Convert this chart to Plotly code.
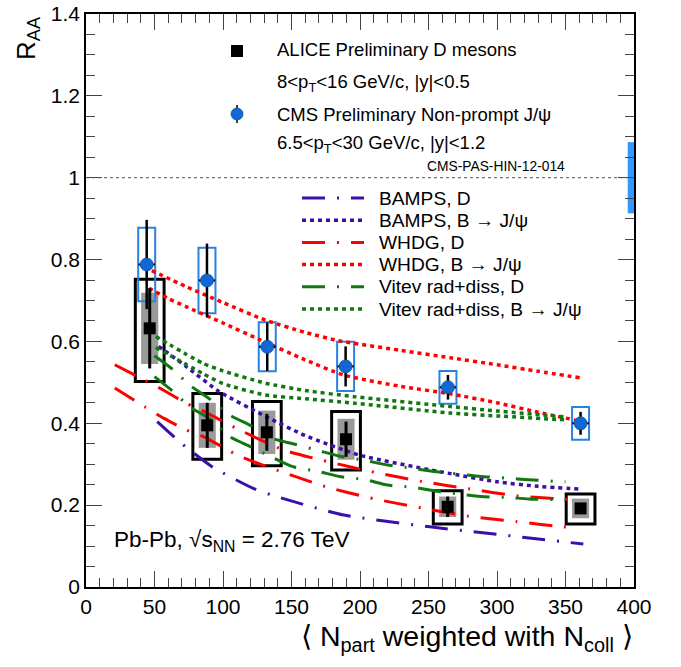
import plotly.graph_objects as go

FONT = "Liberation Sans, Arial, Helvetica, sans-serif"

# ALICE preliminary D mesons
alice_x = [46.5, 88.5, 132.0, 189.8, 264.0, 361.0]
alice_y = [0.632, 0.395, 0.378, 0.361, 0.196, 0.192]
alice_stat = [0.098, 0.055, 0.045, 0.043, 0.025, 0.012]
alice_sys = [0.087, 0.055, 0.053, 0.050, 0.025, 0.024]
alice_fd_hi = [0.120, 0.078, 0.075, 0.068, 0.039, 0.035]
alice_fd_lo = [0.130, 0.083, 0.082, 0.075, 0.042, 0.038]

# CMS preliminary non-prompt J/psi
cms_x = [44.3, 88.3, 132.3, 189.5, 264.2, 361.0]
cms_y = [0.788, 0.749, 0.587, 0.539, 0.488, 0.400]
cms_stat = [0.109, 0.090, 0.059, 0.049, 0.030, 0.028]
cms_sys = [0.090, 0.080, 0.060, 0.060, 0.040, 0.040]
cms_global = 0.087

# model curves
bamps_d_x = [52, 70, 92, 122, 139, 188, 251, 283, 363]
bamps_d_y = [0.404, 0.350, 0.294, 0.241, 0.221, 0.176, 0.147, 0.135, 0.105]

bamps_b_x = [53, 73, 97, 131, 160, 200, 266, 300, 330, 362]
bamps_b_y = [0.588, 0.539, 0.478, 0.417, 0.370, 0.322, 0.277, 0.257, 0.246, 0.239]

whdg_d_x = [21, 42.5, 57, 73, 86, 112, 144, 177, 211, 245, 279, 314, 348, 358]
whdg_d_hi = [0.543, 0.506, 0.480, 0.449, 0.429, 0.384, 0.335, 0.306, 0.280, 0.258, 0.240, 0.223, 0.215, 0.212]
whdg_d_lo = [0.486, 0.441, 0.412, 0.384, 0.367, 0.320, 0.280, 0.243, 0.215, 0.193, 0.173, 0.160, 0.147, 0.145]

whdg_b_hi_x = [48, 73, 100, 131, 160, 184, 230, 266, 300, 330, 361]
whdg_b_hi_y = [0.773, 0.734, 0.695, 0.652, 0.622, 0.602, 0.578, 0.560, 0.543, 0.527, 0.511]
whdg_b_lo_x = [46, 60, 73, 100, 127, 160, 188, 230, 266, 300, 330, 357]
whdg_b_lo_y = [0.730, 0.705, 0.685, 0.645, 0.604, 0.555, 0.518, 0.490, 0.472, 0.450, 0.427, 0.408]

vitev_d_x = [50, 62, 77, 90, 105, 120, 137, 151, 170, 185, 204, 220, 238, 254, 272, 288, 307, 323, 350]
vitev_d_hi = [0.565, 0.535, 0.490, 0.460, 0.420, 0.395, 0.362, 0.350, 0.333, 0.320, 0.309, 0.298,
              0.290, 0.282, 0.276, 0.270, 0.266, 0.262, 0.257]
vitev_d_lo = [0.514, 0.482, 0.437, 0.412, 0.367, 0.343, 0.315, 0.294, 0.282, 0.270, 0.262, 0.249,
              0.244, 0.235, 0.227, 0.221, 0.219, 0.215, 0.213]

vitev_b_x = [51, 85, 100, 131, 160, 196, 266, 300, 351]
vitev_b_hi = [0.612, 0.547, 0.528, 0.498, 0.480, 0.465, 0.441, 0.430, 0.415]
vitev_b_lo = [0.585, 0.522, 0.497, 0.469, 0.460, 0.449, 0.425, 0.418, 0.408]

INDIGO = "#3c0fa8"
RED = "#ff0000"
GREEN = "#117711"
CMS_BLUE = "#1167d4"
DASHDOT = "23px,12px,2px,12px"
DOT = "4px,4px"

W, H = 681, 667
ML, MR, MT, MB = 86, 47, 14, 80
FX0, FX1, FY0, FY1 = ML, W - MR, MT, H - MB


def px(x):
    return (x - FX0) / (FX1 - FX0)


def py(y):
    return (FY1 - y) / (FY1 - FY0)


fig = go.Figure()

# systematic boxes
fig.add_trace(go.Bar(
    x=alice_x, y=[h + l for h, l in zip(alice_fd_hi, alice_fd_lo)],
    base=[v - l for v, l in zip(alice_y, alice_fd_lo)], width=21,
    marker=dict(color="rgba(0,0,0,0)", line=dict(color="black", width=3))))
fig.add_trace(go.Bar(
    x=alice_x, y=[2 * s for s in alice_sys],
    base=[v - s for v, s in zip(alice_y, alice_sys)], width=12.5,
    marker=dict(color="#9a9a9a", line=dict(width=0))))
fig.add_trace(go.Bar(
    x=cms_x, y=[2 * s for s in cms_sys],
    base=[v - s for v, s in zip(cms_y, cms_sys)], width=12.4,
    marker=dict(color="rgba(0,0,0,0)", line=dict(color="#2a82e0", width=2))))
fig.add_trace(go.Bar(
    x=[397.7], y=[2 * cms_global], base=[1 - cms_global], width=4.6,
    marker=dict(color="#3399ff", line=dict(width=0))))

# model curves
curves = [
    (bamps_d_x, bamps_d_y, INDIGO, DASHDOT, 3),
    (bamps_b_x, bamps_b_y, INDIGO, DOT, 3.5),
    (whdg_d_x, whdg_d_hi, RED, DASHDOT, 3),
    (whdg_d_x, whdg_d_lo, RED, DASHDOT, 3),
    (whdg_b_hi_x, whdg_b_hi_y, RED, DOT, 3.5),
    (whdg_b_lo_x, whdg_b_lo_y, RED, DOT, 3.5),
    (vitev_d_x, vitev_d_hi, GREEN, DASHDOT, 3),
    (vitev_d_x, vitev_d_lo, GREEN, DASHDOT, 3),
    (vitev_b_x, vitev_b_hi, GREEN, DOT, 3.5),
    (vitev_b_x, vitev_b_lo, GREEN, DOT, 3.5),
]
for cx, cy, col, dash, w in curves:
    fig.add_trace(go.Scatter(x=cx, y=cy, mode="lines",
                             line=dict(color=col, dash=dash, width=w, shape="spline", smoothing=0.6)))

# data points
fig.add_trace(go.Scatter(
    x=alice_x, y=alice_y, mode="markers",
    marker=dict(symbol="square", size=12, color="black"),
    error_y=dict(type="data", array=alice_stat, width=0, thickness=3, color="black")))
fig.add_trace(go.Scatter(
    x=cms_x, y=cms_y, mode="markers",
    marker=dict(symbol="circle", size=13, color=CMS_BLUE, line=dict(color="#0a4fa0", width=0.8)),
    error_y=dict(type="data", array=cms_stat, width=0, thickness=2.5, color="black"),
    error_x=dict(type="data", array=[6] * len(cms_x), width=0, thickness=2, color="black")))

# reference line at 1
fig.add_shape(type="line", xref="paper", yref="y", x0=0, x1=1, y0=1, y1=1,
              line=dict(color="#555555", width=1, dash="3px,3px"))


def ann(x, y, text, size, anchor="left", color="black"):
    fig.add_annotation(xref="paper", yref="paper", x=px(x), y=py(y), text=text, showarrow=False,
                       xanchor=anchor, yanchor="middle", font=dict(family=FONT, size=size, color=color))


# data legend
fig.add_shape(type="rect", xref="paper", yref="paper", xsizemode="pixel", ysizemode="pixel",
              xanchor=px(237), yanchor=py(51), x0=-6, x1=6, y0=-6, y1=6,
              fillcolor="black", line=dict(width=0))
fig.add_shape(type="line", xref="paper", yref="paper", xsizemode="pixel", ysizemode="pixel",
              xanchor=px(237), yanchor=py(114), x0=0, x1=0, y0=-9, y1=9,
              line=dict(color="black", width=1.5))
fig.add_shape(type="circle", xref="paper", yref="paper", xsizemode="pixel", ysizemode="pixel",
              xanchor=px(237), yanchor=py(114), x0=-6, x1=6, y0=-6, y1=6,
              fillcolor=CMS_BLUE, line=dict(color="#0a4fa0", width=0.8))
ann(275, 50, "ALICE Preliminary D mesons", 18.5)
ann(275, 83, "8&lt;p<sub>T</sub>&lt;16 GeV/c, |y|&lt;0.5", 18.5)
ann(275, 114, "CMS Preliminary Non-prompt J/ψ", 18.5)
ann(275, 144, "6.5&lt;p<sub>T</sub>&lt;30 GeV/c, |y|&lt;1.2", 18.5)
ann(567, 166, "CMS-PAS-HIN-12-014", 13.8, anchor="right")

# model legend
model_legend = [
    ("BAMPS, D", INDIGO, DASHDOT, 3),
    ("BAMPS, B → J/ψ", INDIGO, DOT, 3.5),
    ("WHDG, D", RED, DASHDOT, 3),
    ("WHDG, B → J/ψ", RED, DOT, 3.5),
    ("Vitev rad+diss, D", GREEN, DASHDOT, 3),
    ("Vitev rad+diss, B → J/ψ", GREEN, DOT, 3.5),
]
for i, (name, col, dash, w) in enumerate(model_legend):
    yy = 198 + 22.2 * i
    fig.add_shape(type="line", xref="paper", yref="paper", x0=px(302), x1=px(364),
                  y0=py(yy), y1=py(yy), line=dict(color=col, dash=dash, width=w))
    ann(377, yy, name, 19.2)

ann(112, 541, "Pb-Pb, √s<sub>NN</sub> = 2.76 TeV", 22.5)

# axis titles
fig.add_annotation(xref="paper", yref="paper", x=px(27), y=py(14), text="R<sub>AA</sub>",
                   textangle=-90, showarrow=False, xanchor="center", yanchor="top",
                   font=dict(family=FONT, size=26, color="black"))
ann(635, 638, "⟨ N<sub>part</sub> weighted with N<sub>coll</sub> ⟩", 28.5, anchor="right")

axis_common = dict(
    showline=True, linecolor="black", linewidth=1.5, mirror="ticks",
    ticks="inside", tickcolor="#444444", tickwidth=1, ticklen=16,
    showgrid=False, zeroline=False, automargin=False,
    tickfont=dict(family=FONT, size=21, color="black"),
)
fig.update_xaxes(range=[0, 400], dtick=50, tick0=0,
                 minor=dict(dtick=10, ticks="inside", ticklen=9, tickcolor="#444444"),
                 **axis_common)
fig.update_yaxes(range=[0, 1.4], dtick=0.2, tick0=0,
                 minor=dict(dtick=0.05, ticks="inside", ticklen=9, tickcolor="#444444"),
                 **axis_common)

fig.update_layout(
    width=W, height=H,
    margin=dict(l=ML, r=MR, t=MT, b=MB),
    paper_bgcolor="white", plot_bgcolor="white",
    barmode="overlay", showlegend=False,
    font=dict(family=FONT),
)

# drop the default page margin so the figure sits at the window corner
fig.write_html("out.html", config={"displayModeBar": False},
               post_script="document.body.style.margin = '0px';")
